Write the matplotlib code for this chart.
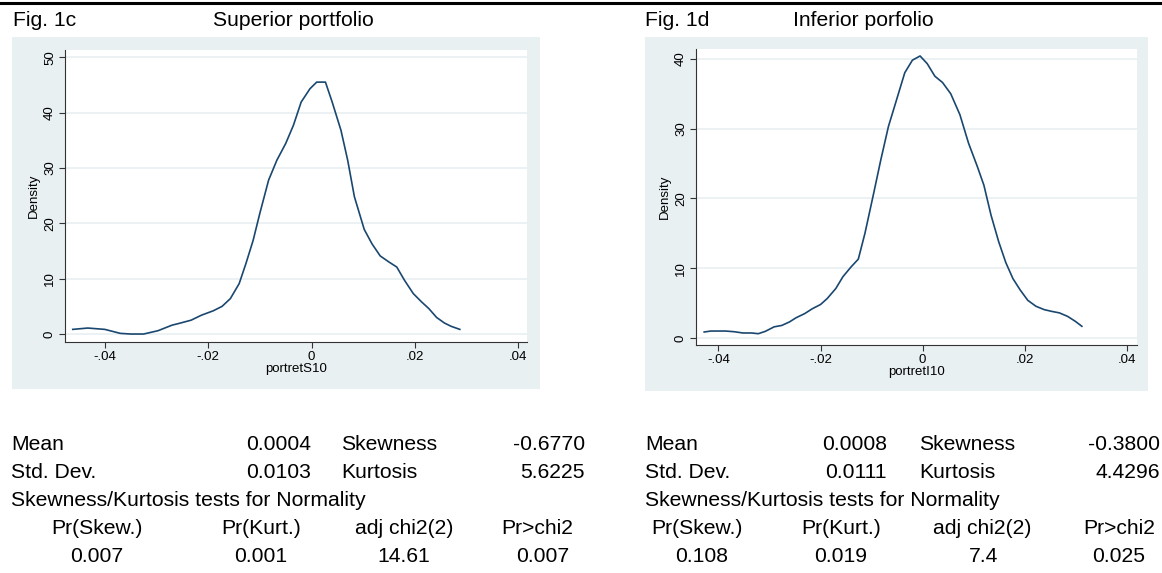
import matplotlib.pyplot as plt

W, H = 1162, 573

# density curves
sup_x = [-0.0462, -0.0433, -0.0400, -0.0370, -0.0350, -0.0325, -0.0297, -0.0270, -0.0257,
         -0.0233, -0.0213, -0.0190, -0.0173, -0.0157, -0.0140, -0.0127, -0.0113, -0.0100,
         -0.0083, -0.0067, -0.0050, -0.0035, -0.0020, -0.0003, 0.0010, 0.0027, 0.0040,
         0.0057, 0.0070, 0.0083, 0.0102, 0.0117, 0.0133, 0.0150, 0.0165, 0.0180, 0.0197,
         0.0213, 0.0227, 0.0242, 0.0257, 0.0270, 0.0287]
sup_y = [0.84, 1.08, 0.84, 0.12, 0.0, 0.0, 0.6, 1.6, 1.9, 2.5, 3.4, 4.2, 5.0, 6.4, 9.1,
         12.7, 16.9, 21.8, 27.8, 31.4, 34.4, 37.7, 41.9, 44.3, 45.5, 45.5, 41.9, 36.8,
         31.4, 24.8, 18.9, 16.3, 14.1, 13.0, 12.1, 9.7, 7.3, 5.8, 4.6, 3.0, 2.0, 1.4, 0.84]

inf_x = [-0.0428, -0.0415, -0.0386, -0.0369, -0.0352, -0.0335, -0.0322, -0.0308, -0.0291,
         -0.0276, -0.0261, -0.0248, -0.0231, -0.0216, -0.0200, -0.0187, -0.0170, -0.0156,
         -0.0140, -0.0126, -0.0113, -0.0096, -0.0082, -0.0067, -0.0052, -0.0035, -0.0020,
         -0.0005, 0.0009, 0.0024, 0.0039, 0.0055, 0.0073, 0.0090, 0.0107, 0.0120, 0.0134,
         0.0149, 0.0163, 0.0177, 0.0191, 0.0206, 0.0222, 0.0238, 0.0252, 0.0268, 0.0284,
         0.0299, 0.0312]
inf_y = [0.86, 1.0, 1.0, 0.9, 0.72, 0.72, 0.62, 0.96, 1.6, 1.8, 2.3, 2.9, 3.5, 4.2, 4.8,
         5.65, 7.1, 8.8, 10.2, 11.3, 15.0, 20.7, 25.5, 30.3, 33.9, 38.0, 39.8, 40.4, 39.3,
         37.5, 36.6, 35.0, 32.0, 27.9, 24.6, 21.9, 17.6, 13.8, 10.8, 8.5, 6.9, 5.4, 4.55,
         4.07, 3.83, 3.6, 3.1, 2.4, 1.68]

xticks = [-0.04, -0.02, 0, 0.02, 0.04]
xtick_labels = ["-.04", "-.02", "0", ".02", ".04"]
sup_yticks = [0, 10, 20, 30, 40, 50]
inf_yticks = [0, 10, 20, 30, 40]

stat_names = ["Mean", "Std. Dev."]
moment_names = ["Skewness", "Kurtosis"]
test_headers = ["Pr(Skew.)", "Pr(Kurt.)", "adj chi2(2)", "Pr>chi2"]
sup_stats = ["0.0004", "0.0103"]
sup_moments = ["-0.6770", "5.6225"]
sup_tests = ["0.007", "0.001", "14.61", "0.007"]
inf_stats = ["0.0008", "0.0111"]
inf_moments = ["-0.3800", "4.4296"]
inf_tests = ["0.108", "0.019", "7.4", "0.025"]

BG = "#e9f0f2"
LINE = "#1a476f"
plt.rcParams["font.family"] = "Liberation Sans"


def box(x0, y0, x1, y1):
    # pixel box (top-left origin) to figure fraction
    return [x0 / W, 1 - y1 / H, (x1 - x0) / W, (y1 - y0) / H]


def tx(x, y, s, ha="left", size=15.2):
    fig.text(x / W, 1 - y / H, s, ha=ha, va="center", fontsize=size, color="black")


fig = plt.figure(figsize=(W / 100, H / 100), dpi=100)

# thick rule at the very top
fig.add_artist(plt.Line2D([0, 1], [1 - 2.5 / H, 1 - 2.5 / H], color="black", lw=2.2))


def panel(bg_box, ax_box, x, y, xlim, ylim, yticks, xlabel):
    bg = fig.add_axes(box(*bg_box))
    bg.set_facecolor(BG)
    bg.set_xticks([])
    bg.set_yticks([])
    for s in bg.spines.values():
        s.set_visible(False)
    bg.set_zorder(0)

    ax = fig.add_axes(box(*ax_box))
    ax.set_zorder(1)
    ax.set_facecolor("white")
    ax.plot(x, y, color=LINE, lw=1.2)
    ax.set_xlim(*xlim)
    ax.set_ylim(*ylim)
    ax.set_xticks(xticks)
    ax.set_xticklabels(xtick_labels)
    ax.set_yticks(yticks)
    ax.set_yticklabels([str(v) for v in yticks], rotation=90, va="center")
    for v in yticks:
        ax.axhline(v, color=BG, lw=1.2, zorder=0)
    ax.spines["top"].set_visible(False)
    ax.spines["right"].set_visible(False)
    ax.spines["left"].set_color("#333333")
    ax.spines["bottom"].set_color("#333333")
    ax.tick_params(axis="both", length=4.5, width=0.8, color="#333333", labelsize=9.5, pad=2)
    ax.set_xlabel(xlabel, fontsize=9.5, labelpad=0)
    ax.set_ylabel("Density", fontsize=9.5, labelpad=3)
    return ax


panel((12, 37, 540, 389), (65, 50, 527, 342), sup_x, sup_y,
      (-0.0477, 0.0417), (-1.44, 51.3), sup_yticks, "portretS10")
panel((645, 37, 1148, 391), (696, 49, 1137, 345), inf_x, inf_y,
      (-0.0444, 0.0420), (-1.0, 41.4), inf_yticks, "portretI10")

# panel headings
tx(13, 21, "Fig. 1c")
tx(213, 21, "Superior portfolio")
tx(645, 21, "Fig. 1d")
tx(793, 21, "Inferior porfolio")

rows = [445, 472, 500, 528, 556]


def table(x_lab, x_val, x_mom, x_mval, head_x, val_x, stats, moments, tests):
    for i in range(2):
        tx(x_lab, rows[i], stat_names[i])
        tx(x_val, rows[i], stats[i], ha="right")
        tx(x_mom, rows[i], moment_names[i])
        tx(x_mval, rows[i], moments[i], ha="right")
    tx(x_lab, rows[2], "Skewness/Kurtosis tests for Normality")
    for i in range(4):
        tx(head_x[i], rows[3], test_headers[i], ha="center")
        tx(val_x[i], rows[4], tests[i], ha="center")


table(11, 311, 341, 585, [97, 261, 404, 537], [97, 261, 404, 543],
      sup_stats, sup_moments, sup_tests)
table(645, 887, 919, 1160, [697, 841, 982, 1119], [702, 841, 984, 1119],
      inf_stats, inf_moments, inf_tests)

fig.savefig("out.png", dpi=100, facecolor="white")
